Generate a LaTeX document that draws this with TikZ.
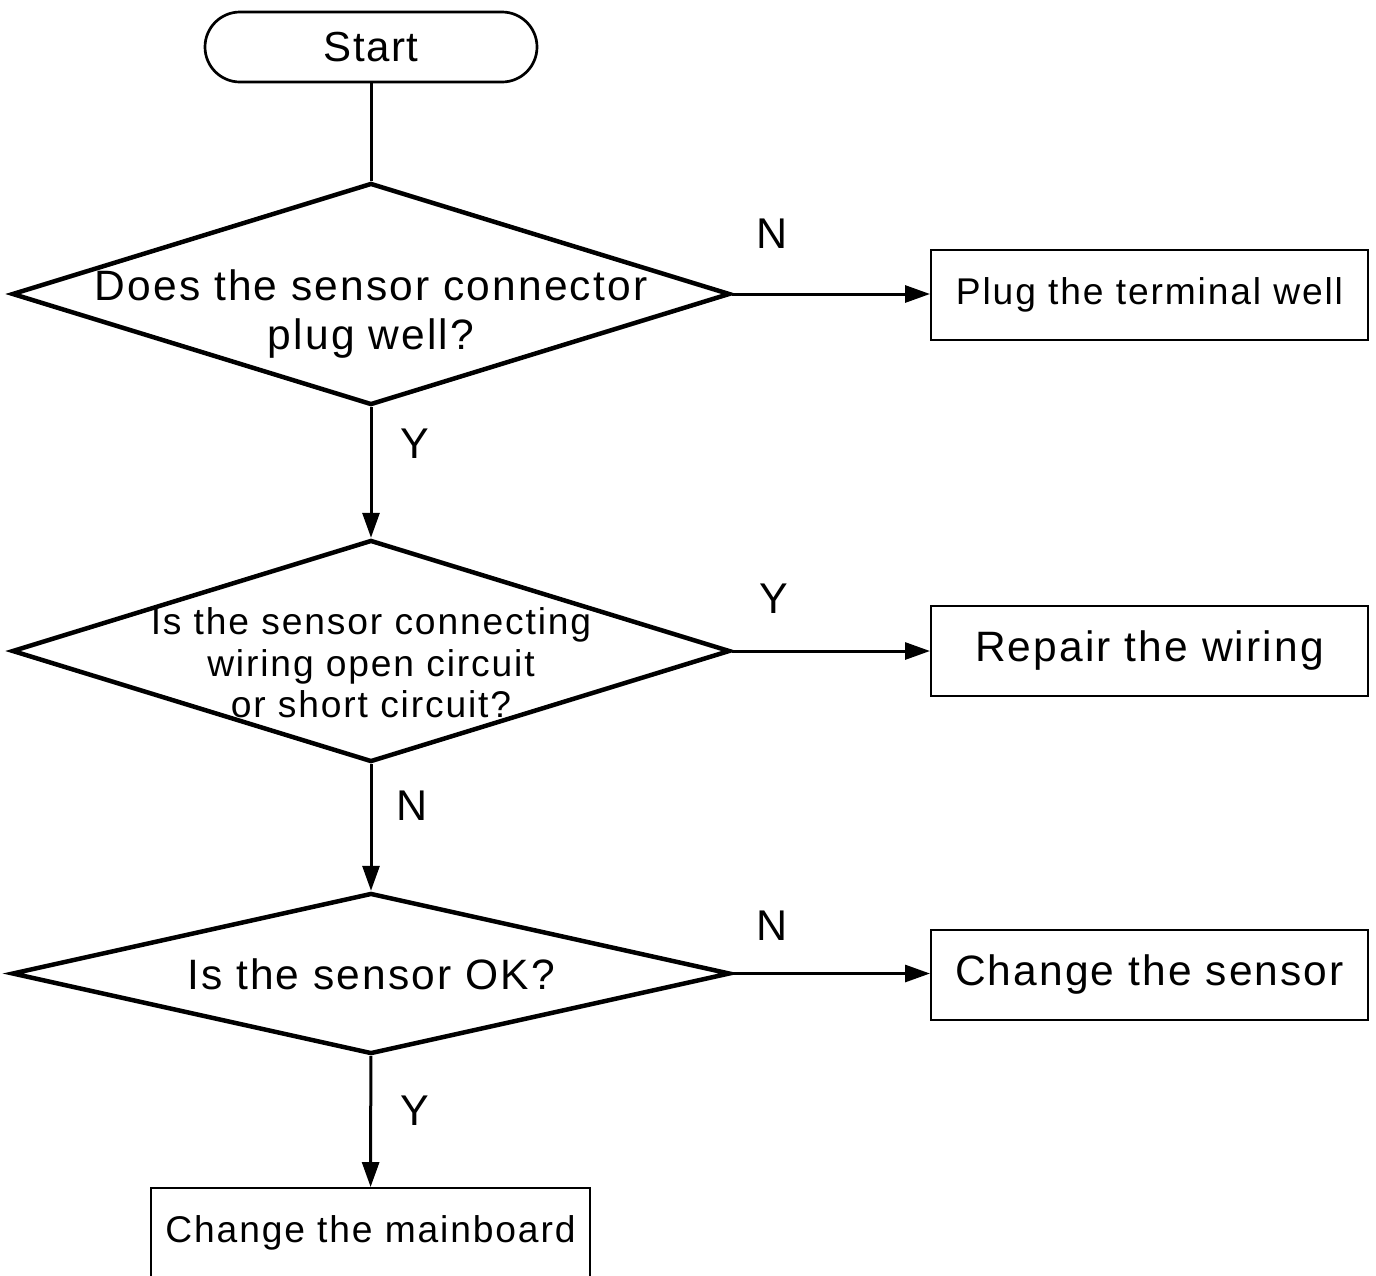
\documentclass[tikz,border=0pt]{standalone}
\usepackage{fontspec}
\newfontfamily\flowfont[LetterSpace=5]{Liberation Sans}
\newfontfamily\startfont[LetterSpace=3.5]{Liberation Sans}
\newfontfamily\ynfont{Liberation Sans}
\usetikzlibrary{arrows.meta,shapes.geometric}

\tikzset{
    decision/.style={diamond, draw, line width=4.5pt, inner sep=0pt, minimum width=718pt},
    action/.style={rectangle, draw, line width=2pt, inner sep=0pt, minimum width=437pt, minimum height=90pt},
    bigtxt/.style={font=\flowfont\fontsize{42.5}{49}\selectfont, align=center},
    smalltxt/.style={font=\flowfont\fontsize{37.2}{41.5}\selectfont, align=center},
    flow/.style={line width=3pt, -{Triangle[length=25pt,width=17pt]}},
    yn/.style={font=\ynfont\fontsize{43}{43}\selectfont},
}

\begin{document}
\begin{tikzpicture}[x=1pt,y=-1pt]
    \useasboundingbox (0,0) rectangle (1376,1275);
    \clip (0,0) rectangle (1376,1275);
    % start
    \node[draw, line width=2.7pt, rounded corners=35pt, minimum width=332pt, minimum height=70pt, inner sep=0pt, font=\startfont\fontsize{42}{42}\selectfont] (start) at (371,47) {Start};
    % questions
    \node[decision, minimum height=222pt] (plug) at (371,294) {};
    \node[bigtxt] (plugq) at (371,314) {Does the sensor connector\\plug well?};
    \node[decision, minimum height=222pt] (wire) at (371,651) {};
    \node[smalltxt] (wireq) at (371,663) {Is the sensor connecting\\wiring open circuit\\or short circuit?};
    \node[decision, minimum height=161pt] (ok) at (371,973.5) {};
    \node[bigtxt] (okq) at (371,974) {Is the sensor OK?};
    % actions
    \node[action, smalltxt] (terminal) at (1149.5,295) {Plug the terminal well};
    \node[action, bigtxt] (repair) at (1149.5,650.5) {Repair the wiring};
    \node[action, bigtxt] (sensor) at (1149.5,974.5) {Change the sensor};
    \node[action, smalltxt, minimum width=439pt] (mainboard) at (370.5,1233) {Change the mainboard};
    % connectors
    \draw[line width=3pt] (start) -- (plug);
    \draw[flow] (plug.east) -- (plug.east -| terminal.west) node[yn, pos=0.2, yshift=60pt] (n1) {N};
    \draw[flow] (plug) -- (wire) node[yn, pos=0.28, xshift=43.5pt] (y1) {Y};
    \draw[flow] (wire.east) -- (wire.east -| repair.west) node[yn, pos=0.21, yshift=52.5pt] (y2) {Y};
    \draw[flow] (wire) -- (ok) node[yn, pos=0.33, xshift=41pt] (n2) {N};
    \draw[flow] (ok.east) -- (ok.east -| sensor.west) node[yn, pos=0.2, yshift=48pt] (n3) {N};
    \draw[flow] (ok) -- (mainboard) node[yn, pos=0.42, xshift=44pt] (y3) {Y};
\end{tikzpicture}
\end{document}
